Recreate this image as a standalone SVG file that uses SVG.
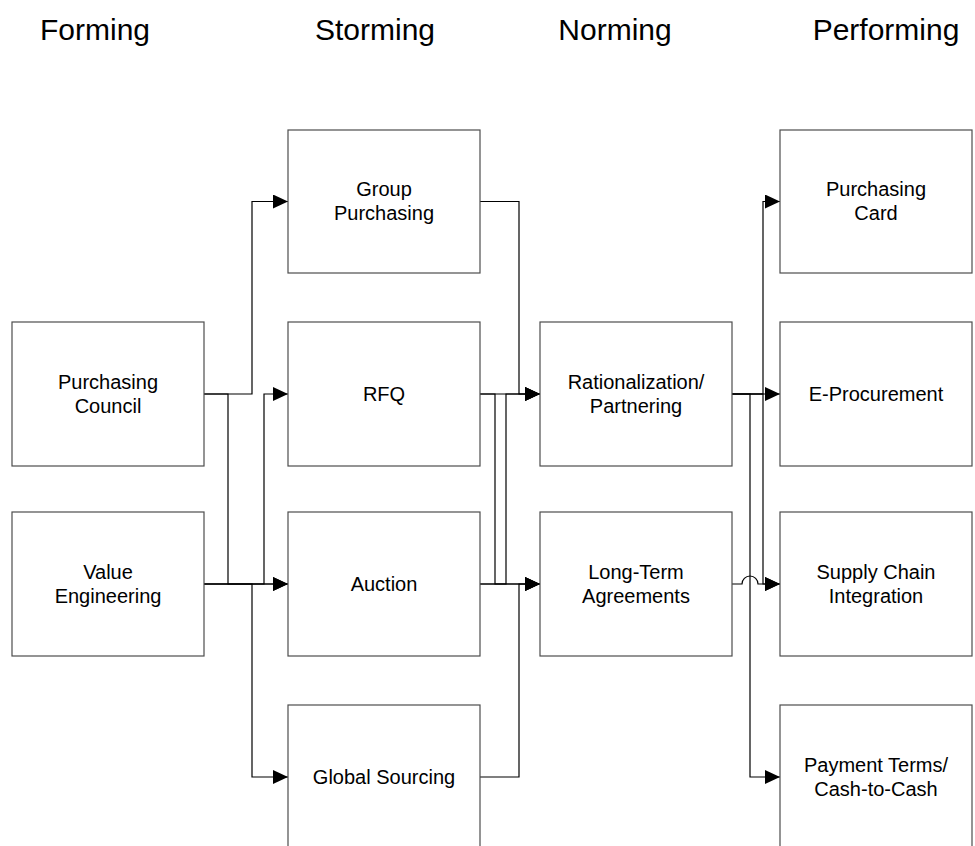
<svg xmlns="http://www.w3.org/2000/svg" width="975" height="846" viewBox="0 0 975 846">
<style>
.box{fill:#fff;stroke:#4d4d4d;stroke-width:1.2}
.lbl{font-family:"Liberation Sans",Arial,sans-serif;font-size:20px;fill:#000;text-anchor:middle}
.title{font-family:"Liberation Sans",Arial,sans-serif;font-size:30px;fill:#000;text-anchor:middle}
.c{fill:none;stroke:#000;stroke-width:1.2;marker-end:url(#arr)}
</style>
<defs>
<marker id="arr" markerUnits="userSpaceOnUse" markerWidth="16" markerHeight="15" refX="15" refY="7" orient="auto">
<path d="M0,0 L15,7 L0,14 z" fill="#000"/>
</marker>
</defs>
<rect width="975" height="846" fill="#fff"/>
<g id="titles">
<text class="title" x="95" y="40">Forming</text>
<text class="title" x="375" y="40">Storming</text>
<text class="title" x="615" y="40">Norming</text>
<text class="title" x="886" y="40">Performing</text>
</g>
<g id="connectors">
<path class="c" d="M204,394 H252 V201.5 H288"/>
<path class="c" d="M204,584 H264 V394 H288"/>
<path class="c" d="M204,394 H228 V584 H288"/>
<path class="c" d="M204,584 H288"/>
<path class="c" d="M204,584 H252 V777 H288"/>
<path class="c" d="M480,201.5 H519 V394 H540"/>
<path class="c" d="M480,394 H540"/>
<path class="c" d="M480,394 H495 V584 H540"/>
<path class="c" d="M480,584 H506 V394 H540"/>
<path class="c" d="M480,584 H540"/>
<path class="c" d="M480,777 H519 V584 H540"/>
<path class="c" d="M732,394 H763 V201.5 H780"/>
<path class="c" d="M732,394 H780"/>
<path class="c" d="M732,394 H763 V584 H780"/>
<path class="c" d="M732,394 H750 V777 H780"/>
<path class="c" d="M732,584 H742 A8,8 0 0 1 758,584 H780"/>
</g>
<g id="purchasing-council"><rect class="box" x="12" y="322" width="192" height="144"/><text class="lbl" x="108" y="389">Purchasing</text><text class="lbl" x="108" y="413">Council</text></g>
<g id="value-engineering"><rect class="box" x="12" y="512" width="192" height="144"/><text class="lbl" x="108" y="579">Value</text><text class="lbl" x="108" y="603">Engineering</text></g>
<g id="group-purchasing"><rect class="box" x="288" y="130" width="192" height="143"/><text class="lbl" x="384" y="196">Group</text><text class="lbl" x="384" y="220">Purchasing</text></g>
<g id="rfq"><rect class="box" x="288" y="322" width="192" height="144"/><text class="lbl" x="384" y="401">RFQ</text></g>
<g id="auction"><rect class="box" x="288" y="512" width="192" height="144"/><text class="lbl" x="384" y="591">Auction</text></g>
<g id="global-sourcing"><rect class="box" x="288" y="705" width="192" height="146"/><text class="lbl" x="384" y="784">Global Sourcing</text></g>
<g id="rationalization"><rect class="box" x="540" y="322" width="192" height="144"/><text class="lbl" x="636" y="389">Rationalization/</text><text class="lbl" x="636" y="413">Partnering</text></g>
<g id="long-term"><rect class="box" x="540" y="512" width="192" height="144"/><text class="lbl" x="636" y="579">Long-Term</text><text class="lbl" x="636" y="603">Agreements</text></g>
<g id="purchasing-card"><rect class="box" x="780" y="130" width="192" height="143"/><text class="lbl" x="876" y="196">Purchasing</text><text class="lbl" x="876" y="220">Card</text></g>
<g id="e-procurement"><rect class="box" x="780" y="322" width="192" height="144"/><text class="lbl" x="876" y="401">E-Procurement</text></g>
<g id="supply-chain"><rect class="box" x="780" y="512" width="192" height="144"/><text class="lbl" x="876" y="579">Supply Chain</text><text class="lbl" x="876" y="603">Integration</text></g>
<g id="payment-terms"><rect class="box" x="780" y="705" width="192" height="146"/><text class="lbl" x="876" y="772">Payment Terms/</text><text class="lbl" x="876" y="796">Cash-to-Cash</text></g>
</svg>
